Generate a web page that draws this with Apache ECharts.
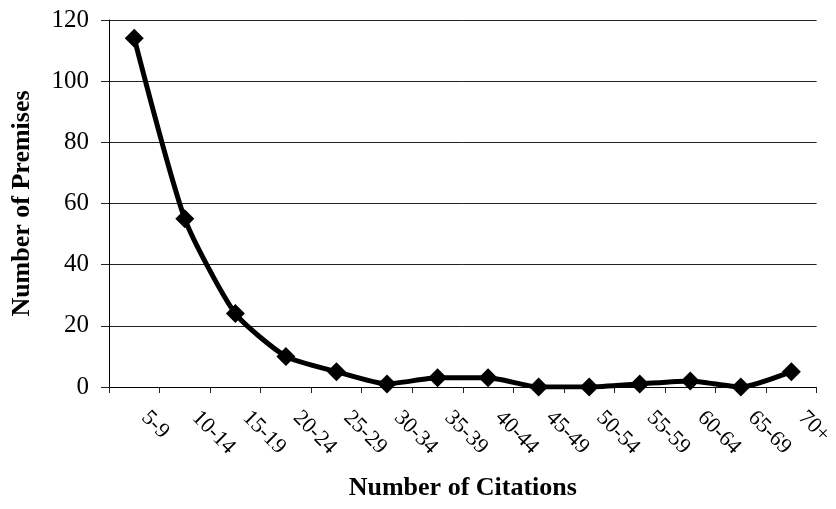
<!DOCTYPE html>
<html><head><meta charset="utf-8">
<script src="https://cdn.jsdelivr.net/npm/echarts@6/dist/echarts.min.js"></script>
<style>html,body{margin:0;padding:0;background:#fff}#c{width:836px;height:509px}</style>
</head><body><div id="c"></div>
<script>
const categories = ['5-9','10-14','15-19','20-24','25-29','30-34','35-39','40-44','45-49','50-54','55-59','60-64','65-69','70+'];
const premises = [114,55,24,10,5,1,3,3,0,0,1,2,0,5];
const yTicks = {min:0,max:120,interval:20};
const FONT = '"Liberation Serif", "Times New Roman", serif';
const chart = echarts.init(document.getElementById('c'));
chart.setOption({
  animation:false,
  grid:{left:109,right:14,top:20,bottom:122,containLabel:false},
  xAxis:{
    type:'category', data:categories, boundaryGap:true,
    name:'Number of Citations', nameLocation:'middle', nameGap:88,
    nameTextStyle:{fontFamily:FONT,fontWeight:'bold',fontSize:26,color:'#000'},
    axisLine:{lineStyle:{color:'#000',width:1}},
    axisTick:{show:true,length:6,lineStyle:{color:'#222'},alignWithLabel:false},
    axisLabel:{rotate:-45,fontFamily:FONT,fontSize:22,color:'#000',margin:38,interval:0,align:'left',verticalAlign:'bottom',padding:[0,0,4,0]}
  },
  yAxis:{
    type:'value', min:yTicks.min, max:yTicks.max, interval:yTicks.interval,
    name:'Number of Premises', nameLocation:'middle', nameGap:74,
    nameTextStyle:{fontFamily:FONT,fontWeight:'bold',fontSize:26,color:'#000'},
    axisLine:{show:true,lineStyle:{color:'#000',width:1}},
    axisTick:{show:true,length:8,lineStyle:{color:'#222'}},
    axisLabel:{fontFamily:FONT,fontSize:25,color:'#000',margin:20},
    splitLine:{lineStyle:{color:'#222',width:1}}
  },
  series:[{
    type:'line', data:premises, smooth:0.2,
    lineStyle:{color:'#000',width:5},
    itemStyle:{color:'#000'},
    symbol:'diamond', symbolSize:19
  }]
});
</script></body></html>
